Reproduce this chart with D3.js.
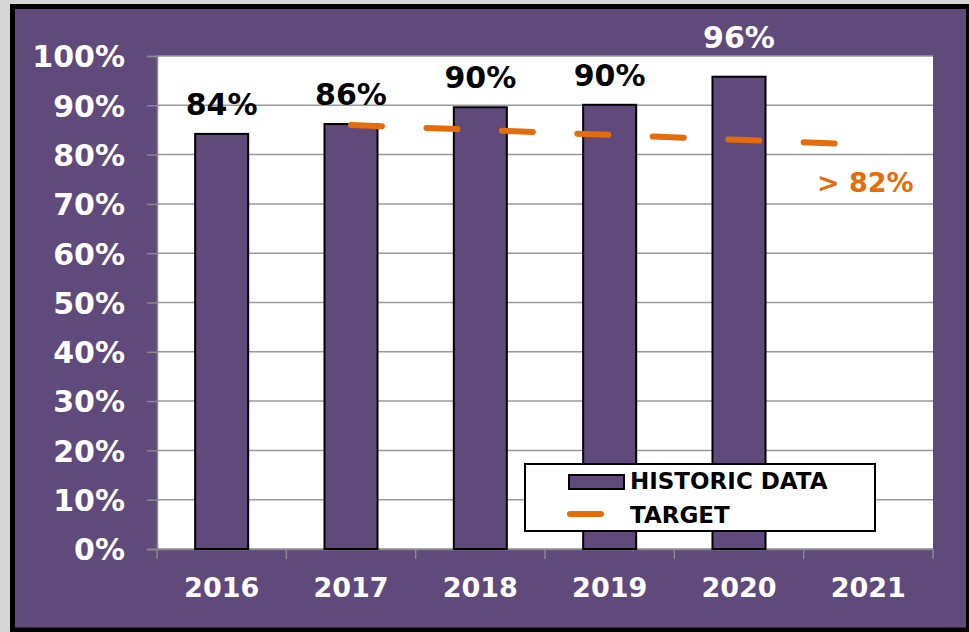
<!DOCTYPE html>
<html><head><meta charset="utf-8">
<script src="https://cdn.jsdelivr.net/npm/d3@7"></script>
<style>html,body{margin:0;padding:0;background:#d6d6d6;}svg{display:block;}</style>
</head><body>
<script>
const years = ["2016","2017","2018","2019","2020","2021"];
const historic = [84.2, 86.2, 89.6, 90.1, 95.8];
const targetYears = ["2017","2018","2019","2020","2021"];
const targetValues = [86, 85, 84, 83, 82];
const yTicks = [0,10,20,30,40,50,60,70,80,90,100];
const legendLabels = ["HISTORIC DATA","TARGET"];

const W = 969, H = 632;
const purple = "#604A7B", orange = "#E46C0A";
const font = "'DejaVu Sans', sans-serif";
const svg = d3.select("body").append("svg").attr("width", W).attr("height", H);

svg.append("rect").attr("x",0).attr("y",0).attr("width",W).attr("height",H).attr("fill","#d6d6d6");
svg.append("rect").attr("x",12.5).attr("y",6.5).attr("width",956).attr("height",623.5)
  .attr("fill",purple).attr("stroke","#000").attr("stroke-width",5);

const plot = {l:157, r:933, t:56, b:549};
const x = d3.scaleBand().domain(years).range([plot.l, plot.r]).paddingInner(0).paddingOuter(0);
const y = d3.scaleLinear().domain([0,100]).range([plot.b, plot.t]);
const xc = d => x(d) + x.bandwidth()/2;

svg.append("rect").attr("x",plot.l).attr("y",plot.t).attr("width",plot.r-plot.l).attr("height",plot.b-plot.t).attr("fill","#fff");

// gridlines
svg.append("g").selectAll("line").data(yTicks).join("line")
  .attr("x1",plot.l).attr("x2",plot.r).attr("y1",d=>y(d)).attr("y2",d=>y(d))
  .attr("stroke","#9a9a9a").attr("stroke-width",1.5);

// y axis
const yAxis = svg.append("g").attr("transform",`translate(${plot.l},0)`)
  .call(d3.axisLeft(y).tickValues(yTicks).tickSize(10).tickPadding(22).tickFormat(d=>d+"%"));
yAxis.select(".domain").attr("stroke","#8a8a8a").attr("stroke-width",1.5);
yAxis.selectAll(".tick line").attr("stroke","#8a8a8a").attr("stroke-width",1.5);
yAxis.selectAll("text").attr("fill","#fff").attr("font-family",font).attr("font-weight","bold").attr("font-size",30).attr("dy","0.36em");

// x axis
const xAxis = svg.append("g").attr("transform",`translate(0,${plot.b})`)
  .call(d3.axisBottom(x).tickSize(0).tickPadding(0));
xAxis.select(".domain").attr("stroke","#8a8a8a").attr("stroke-width",1.5);
xAxis.selectAll("text").attr("fill","#fff").attr("font-family",font).attr("font-weight","bold").attr("font-size",27).attr("y",48).attr("dy",0);
xAxis.selectAll(".tick line").remove();
const bounds = years.map(d=>x(d)).concat([x(years[years.length-1])+x.bandwidth()]);
xAxis.selectAll("line.bnd").data(bounds).join("line").attr("class","bnd")
  .attr("x1",d=>d).attr("x2",d=>d).attr("y1",0).attr("y2",10).attr("stroke","#8a8a8a").attr("stroke-width",1.5);

// bars
const bw = x.bandwidth()*0.41;
const barData = historic.map((v,i)=>({year:years[i], v}));
svg.append("g").selectAll("rect").data(barData).join("rect")
  .attr("x",d=>xc(d.year)-bw/2).attr("y",d=>y(d.v)).attr("width",bw).attr("height",d=>y(0)-y(d.v))
  .attr("fill",purple).attr("stroke","#000").attr("stroke-width",2);

// data labels (moved above the plot area when they would cross its top edge)
const fmt = d3.format(".0f");
const labelY = d => { const p = y(d.v) - 19; return (p - 22 < plot.t) ? plot.t - 8 : p; };
svg.append("g").selectAll("text").data(barData).join("text")
  .attr("x",d=>xc(d.year)).attr("y",labelY)
  .attr("text-anchor","middle").attr("font-family",font).attr("font-weight","bold").attr("font-size",30)
  .attr("fill",d=>(labelY(d) < plot.t) ? "#fff" : "#000")
  .text(d=>fmt(d.v)+"%");

// target line
const tData = targetValues.map((v,i)=>({year:targetYears[i], v}));
svg.append("path").datum(tData)
  .attr("d", d3.line().x(d=>xc(d.year)).y(d=>y(d.v)))
  .attr("fill","none").attr("stroke",orange).attr("stroke-width",6)
  .attr("stroke-linecap","round").attr("stroke-dasharray","31,44.5");
const last = tData[tData.length-1];
svg.append("text").attr("x",xc(last.year)-3).attr("y",y(last.v)+47)
  .attr("text-anchor","middle").attr("font-family",font).attr("font-weight","bold").attr("font-size",27)
  .attr("fill",orange).text("> "+fmt(last.v)+"%");

// legend
const lg = svg.append("g");
lg.append("rect").attr("x",525).attr("y",464).attr("width",350).attr("height",67)
  .attr("fill","#fff").attr("stroke","#000").attr("stroke-width",2);
lg.append("rect").attr("x",569).attr("y",475).attr("width",55).attr("height",14)
  .attr("fill",purple).attr("stroke","#000").attr("stroke-width",2);
lg.append("line").attr("x1",570).attr("x2",601).attr("y1",514).attr("y2",514)
  .attr("stroke",orange).attr("stroke-width",6).attr("stroke-linecap","round");
lg.selectAll("text").data(legendLabels).join("text")
  .attr("x",630).attr("y",(d,i)=>489+i*34)
  .attr("font-family",font).attr("font-weight","bold").attr("font-size",23).attr("fill","#000")
  .text(d=>d);
</script>
</body></html>
